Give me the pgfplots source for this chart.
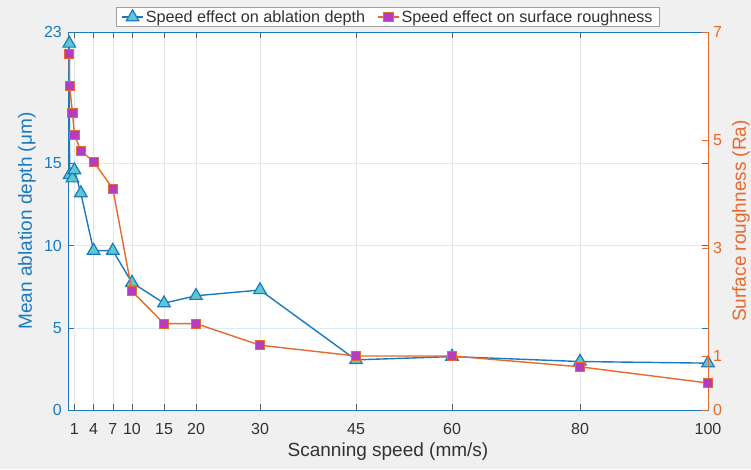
\documentclass[border=0pt]{standalone}
\usepackage{fontspec}
\setmainfont{Liberation Sans}
\usepackage{pgfplots}
\pgfplotsset{compat=1.18}
\definecolor{matblue}{RGB}{25,122,192}
\definecolor{matorange}{RGB}{230,105,45}
\definecolor{trifill}{RGB}{95,200,205}
\definecolor{sqfill}{RGB}{180,60,190}
\definecolor{figbg}{RGB}{240,240,240}
\definecolor{axgray}{RGB}{50,50,50}
\definecolor{gridgray}{RGB}{228,228,228}
\definecolor{gridblue}{RGB}{218,234,246}
\begin{document}
\begin{tikzpicture}
\useasboundingbox (0,0) rectangle (751pt,469pt);
\fill[figbg] (0,0) rectangle (751pt,469pt);
\begin{axis}[
  at={(68pt,59pt)}, anchor=south west, scale only axis,
  width=640pt, height=378pt,
  xmin=0, xmax=100, ymin=0, ymax=23,
  axis background/.style={fill=white},
  clip=false,
  xtick={1,4,7,10,15,20,30,45,60,80,100},
  ytick={0,5,10,15,23},
  xtick pos=both, xticklabel pos=bottom,
  ytick pos=both, yticklabel pos=left,
  tick align=inside,
  major tick length=6pt,
  x axis line style={color=axgray!80, line width=0.6pt},
  y axis line style={color=matblue, line width=0.6pt},
  xtick style={color=axgray!80, line width=0.6pt},
  ytick style={color=matblue, line width=0.6pt},
  xmajorgrids, ymajorgrids,
  x grid style={color=gridgray, line width=0.6pt},
  y grid style={color=gridblue, line width=0.6pt},
  /pgf/number format/assume math mode=true,
  xticklabel style={font=\fontsize{16}{18}\selectfont, text=axgray, inner sep=0pt, yshift=-13pt},
  yticklabel style={font=\fontsize{16}{18}\selectfont, text=matblue, inner sep=0pt, xshift=-6pt},
  xlabel={Scanning speed (mm/s)},
  xlabel style={font=\fontsize{19}{22}\selectfont, text=axgray, at={(axis description cs:0.5,-0.111)}, anchor=center},
  ylabel={Mean ablation depth (μm)},
  ylabel style={font=\fontsize{19}{22}\selectfont, text=matblue, at={(axis description cs:-0.064,0.5)}, anchor=center},
]
\addplot[color=matblue, line width=1.4pt, mark=triangle*, mark size=7.2pt,
  mark options={fill=trifill, draw=matblue, line width=1.2pt}]
  coordinates {
  (0.2,22.3) (0.25,14.3) (0.7,14.1) (1,14.6) (2,13.2) (4,9.7) (7,9.7)
  (10,7.75) (15,6.5) (20,6.95) (30,7.3) (45,3.05) (60,3.25) (80,2.95) (100,2.85)
  };
\end{axis}
\begin{axis}[
  at={(68pt,59pt)}, anchor=south west, scale only axis,
  width=640pt, height=378pt,
  xmin=0, xmax=100, ymin=0, ymax=7,
  clip=false,
  axis x line=none,
  axis y line*=right,
  ytick={0,1,3,5,7},
  tick align=inside,
  major tick length=6pt,
  y axis line style={color=matorange, line width=0.6pt, -},
  ytick style={color=matorange, line width=0.6pt},
  /pgf/number format/assume math mode=true,
  yticklabel style={font=\fontsize{16}{18}\selectfont, text=matorange, inner sep=0pt, xshift=5pt},
  ylabel={Surface roughness (Ra)},
  ylabel style={font=\fontsize{19}{22}\selectfont, text=matorange, at={(axis description cs:1.0516,0.5)}, anchor=center, rotate=0},
  legend columns=2,
  legend style={at={(axis description cs:0.5,1)}, anchor=south, yshift=5pt,
    draw={rgb,255:red,160;green,160;blue,160}, line width=0.6pt, fill=white,
    font=\fontsize{16.2}{18}\selectfont, text=axgray,
    inner xsep=5pt, inner ysep=1pt,
    /tikz/every even column/.append style={column sep=10pt}},
  legend cell align=left,
  legend image code/.code={\draw[mark repeat=2, mark phase=2, #1] plot coordinates {(0pt,0pt) (10.5pt,0pt) (21pt,0pt)};},
]
\addlegendimage{color=matblue, line width=1.4pt, mark=triangle*, mark size=7.2pt,
  mark options={fill=trifill, draw=matblue, line width=1.2pt}}
\addlegendentry{Speed effect on ablation depth}
\addplot[color=matorange, line width=1.4pt, mark=square*, mark size=4.6pt,
  mark options={fill=sqfill, draw=matorange, line width=1pt}]
  coordinates {
  (0.2,6.6) (0.25,6.0) (0.7,5.5) (1,5.1) (2,4.8) (4,4.6) (7,4.1)
  (10,2.2) (15,1.6) (20,1.6) (30,1.2) (45,1.0) (60,1.0) (80,0.8) (100,0.5)
  };
\addlegendentry{Speed effect on surface roughness}
\end{axis}
\end{tikzpicture}
\end{document}
